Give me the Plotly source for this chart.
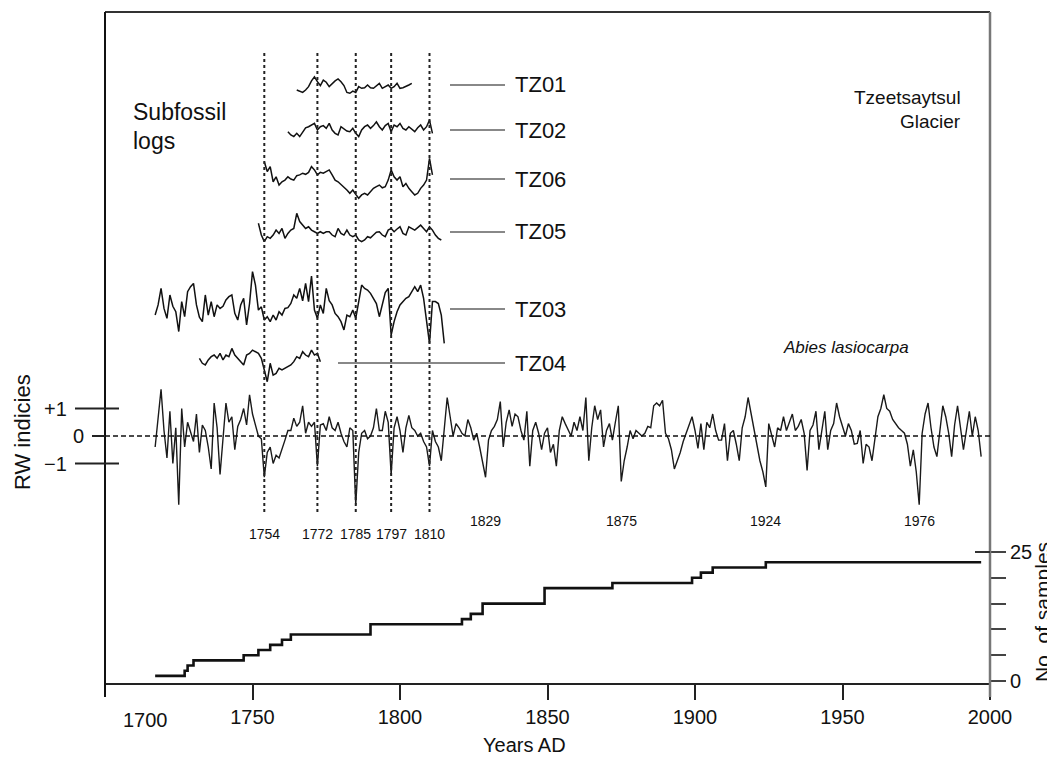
import plotly.graph_objects as go

# ---------------- DATA ----------------
chron_start = 1717
chron_values = [
    -0.4, 0.6, 1.7, 0.2, -0.8, 0.9, -1.0, 0.3, -2.5, 1.0,          # 1717-1726
    -0.4, 0.5, 0.1, -0.2, 0.8, -0.6, 0.4, 0.2, -0.4, -1.2,          # 1727-1736
    1.2, 0.3, -1.4, 0.0, 1.2, 0.5, 0.7, -0.5, 0.35, 0.6,            # 1737-1746
    1.0, 0.4, 1.5, 0.8, 0.35, 0.0, -0.1, -1.5, -0.6, -0.4,          # 1747-1756
    -1.0, -0.7, -0.8, -0.5, -0.15, 0.2, 0.2, 0.65, 0.35, 0.5,       # 1757-1766
    1.1, 0.1, 0.5, 0.35, 0.5, -1.1, 0.4, 0.45, 0.2, 0.7,            # 1767-1776
    0.3, 0.2, 0.5, 0.1, -0.2, -0.4, 0.3, 0.2, -2.5, -0.6,           # 1777-1786
    0.1, 0.2, -0.1, 0.0, 0.3, 1.0, 0.2, 0.2, 0.9, 0.5,              # 1787-1796
    -1.4, 0.3, 0.7, 0.2, -0.6, 0.3, 0.75, 0.3, 0.2, 0.0,            # 1797-1806
    0.1, -0.2, -0.4, -1.1, 0.2, -0.2, -0.4, -0.9, 0.3, 1.4,         # 1807-1816
    0.7, 0.0, 0.45, 0.3, 0.1, 0.0, 0.6, 0.3, -0.15, 0.1,            # 1817-1826
    -0.4, -0.9, -1.5, -0.15, 0.2, 0.35, 0.6, 1.25, -0.4, 0.5,       # 1827-1836
    0.95, 0.35, 0.8, 0.7, 0.2, -0.15, 0.9, -1.1, 0.2, 0.5,          # 1837-1846
    0.1, -0.5, 0.1, 0.3, -0.6, -0.3, -1.1, 0.2, 0.7, 0.45,          # 1847-1856
    0.2, 0.0, 0.5, 0.2, 0.7, 0.2, 1.4, -0.9, 0.3, 1.1,              # 1857-1866
    0.6, 0.95, -0.4, 0.2, 0.45, -0.15, 0.5, 1.1, -1.65, -0.9,       # 1867-1876
    -0.4, 0.2, -0.1, 0.2, 0.1, 0.0, 0.1, 0.35, 0.3, 1.1,            # 1877-1886
    1.2, 1.1, 1.3, 0.1, -0.1, -0.5, -1.2, -0.9, -0.6, -0.2,         # 1887-1896
    0.1, 0.4, 0.7, 0.2, -0.45, 0.45, -0.5, 0.5, 0.3, 0.8,           # 1897-1906
    0.2, -0.15, -0.15, 0.45, -0.9, 0.1, 0.2, -0.3, -0.9, 0.3,       # 1907-1916
    0.7, 1.4, 0.8, 0.2, -0.4, -0.9, -1.3, -1.85, 0.45, 0.0,         # 1917-1926
    -0.4, 0.3, 0.2, 0.7, 0.2, 0.5, 0.8, 0.2, 0.35, 0.6,             # 1927-1936
    0.1, -1.25, 0.2, 0.4, 0.9, -0.5, 0.3, 0.9, -0.5, 0.2,           # 1937-1946
    0.45, 1.2, 0.7, 0.3, 0.0, 0.45, 0.2, -0.3, -0.27, 0.2,          # 1947-1956
    -1.0, -0.3, -0.4, -0.9, 0.0, 0.7, 1.0, 1.5, 1.0, 0.9,           # 1957-1966
    0.6, 0.45, 0.3, 0.2, 0.1, -0.3, -1.1, -0.5, -1.3, -2.5,         # 1967-1976
    0.1, 0.8, 1.2, 0.3, -0.4, -0.75, 0.3, 1.1, 0.7, 0.1,            # 1977-1986
    -0.75, 0.4, 1.1, 0.3, -0.5, 0.2, 0.9, 0.0, 0.7, 0.2,            # 1987-1996
    -0.75,                                                          # 1997
]
chron_years = list(range(chron_start, chron_start + len(chron_values)))

tz01_start = 1765
tz01_values = [-0.18, -0.24, -0.27, -0.18, -0.06, 0.15, 0.3, 0.12, -0.02, 0.18,
               0.1, -0.06, 0.06, 0.15, 0.22, 0.12, -0.02, -0.27, -0.3, -0.22,
               -0.27, -0.06, -0.12, -0.1, 0.0, -0.1, -0.12, -0.02, 0.06, -0.12,
               -0.06, 0.0, -0.12, -0.06, 0.06, -0.12, -0.1, -0.06, 0.0, 0.06]

tz02_start = 1762
tz02_values = [-0.06, -0.18, -0.24, -0.12, -0.24, -0.06, 0.08, 0.12, 0.18, 0.24,
               0.0, 0.12, 0.16, 0.06, 0.24, 0.0, -0.12, -0.18, 0.12, 0.04,
               -0.04, -0.06, 0.06, -0.12, -0.24, 0.0, 0.12, 0.18, 0.06, 0.16,
               0.3, 0.12, 0.0, 0.16, 0.24, -0.06, 0.18, 0.12, 0.24, 0.06,
               0.0, 0.12, 0.04, -0.06, 0.08, 0.18, 0.0, 0.12, 0.36, -0.12]

tz06_start = 1754
tz06_values = [0.63, 0.27, 0.45, -0.1, 0.08, -0.22, -0.1, -0.04, 0.08, 0.0,
               -0.04, 0.12, 0.15, 0.21, 0.17, 0.24, 0.45, 0.33, 0.15, 0.24,
               0.21, 0.27, 0.33, 0.15, -0.04, -0.1, -0.19, -0.28, -0.4, -0.52,
               -0.4, -0.56, -0.7, -0.58, -0.52, -0.58, -0.46, -0.34, -0.28, -0.22,
               -0.32, -0.28, -0.04, 0.33, 0.08, -0.04, 0.08, -0.28, -0.16, -0.34,
               -0.46, -0.58, -0.52, -0.34, -0.22, -0.04, 0.75, 0.15]

tz05_start = 1752
tz05_values = [0.32, -0.11, -0.35, -0.17, -0.23, -0.11, 0.07, -0.05, 0.13, -0.23,
               -0.05, 0.07, 0.13, 0.68, 0.38, 0.25, 0.13, 0.19, 0.07, 0.01,
               -0.05, 0.01, -0.05, 0.01, 0.01, -0.11, -0.17, 0.13, -0.05, -0.11,
               0.07, -0.11, -0.17, -0.11, -0.29, -0.35, -0.29, -0.17, -0.21, -0.11,
               -0.01, 0.01, -0.11, -0.17, 0.07, 0.13, 0.01, 0.11, 0.19, -0.05,
               -0.11, 0.19, 0.13, 0.07, 0.16, 0.25, 0.13, 0.01, 0.19, 0.07,
               -0.11, -0.23, -0.29]

tz03_start = 1717
tz03_values = [-0.22, 0.15, 0.75, 0.02, -0.34, 0.51, 0.1, -0.1, -0.82, 0.27,
               -0.28, 0.63, 0.81, 0.93, 0.15, -0.3, -0.46, 0.51, -0.22, 0.27,
               -0.28, 0.15, 0.02, 0.1, 0.33, 0.45, 0.51, -0.16, -0.4, 0.15,
               0.39, -0.58, 0.2, 1.36, 0.87, -0.04, 0.08, -0.4, -0.28, -0.46,
               -0.22, -0.4, -0.1, -0.22, 0.02, 0.05, 0.2, 0.51, 0.39, 0.75,
               0.3, 0.93, 0.27, 1.2, -0.04, -0.34, 0.15, -0.16, 0.75, 0.3,
               0.15, -0.16, -0.28, -0.46, -0.76, -0.22, -0.28, -0.04, -0.34, 0.2,
               0.87, 0.75, 0.69, 0.57, 0.39, 0.2, -0.28, 0.15, 0.6, 0.75,
               -0.95, -0.46, -0.1, 0.15, 0.27, 0.39, 0.45, 0.63, 0.81, 0.63,
               0.87, 0.39, -0.4, -1.25, 0.27, 0.27, 0.2, -0.22, -1.25]

tz04_start = 1732
tz04_values = [0.17, -0.01, -0.07, 0.11, 0.23, 0.29, 0.17, 0.35, 0.11, 0.29,
               0.23, 0.53, 0.29, 0.17, 0.05, -0.07, 0.29, 0.35, 0.47, 0.41,
               0.35, 0.17, -0.3, -0.68, -0.01, -0.44, -0.38, -0.19, -0.25, -0.19,
               -0.13, -0.07, 0.05, 0.23, 0.17, 0.41, 0.29, 0.23, 0.47, 0.29,
               0.35, 0.05]

series_names = ["TZ01", "TZ02", "TZ06", "TZ05", "TZ03", "TZ04"]
series_starts = [tz01_start, tz02_start, tz06_start, tz05_start, tz03_start, tz04_start]
series_values = [tz01_values, tz02_values, tz06_values, tz05_values, tz03_values, tz04_values]

depth_years = [1717, 1727, 1728, 1730, 1747, 1752, 1756, 1760, 1763, 1790,
               1821, 1824, 1828, 1849, 1872, 1899, 1902, 1906, 1924, 1997]
depth_counts = [1, 2, 3, 4, 5, 6, 7, 8, 9, 11,
                12, 13, 15, 18, 19, 20, 21, 22, 23, 23]

event_years = [1754, 1772, 1785, 1797, 1810]
other_years = [1829, 1875, 1924, 1976]

x_ticks = [1750, 1800, 1850, 1900, 1950, 2000]
rw_ticks = [1, 0, -1]
rw_labels = ["+1", "0", "\u22121"]
depth_ticks = [0, 5, 10, 15, 20, 25]
depth_labels = ["0", "", "", "", "", "25"]

# ---------------- LAYOUT GEOMETRY ----------------
# The page body has an 8px margin, so every screen position is shifted by OFF.
OFF = 8
W, H = 1055 - OFF, 763 - OFF
# plot area in screen (window) pixels
SPL, SPR, SPT, SPB = 105, 990, 12, 683
PL, PR, PT, PB = SPL - OFF, SPR - OFF, SPT - OFF, SPB - OFF
PW, PH = PR - PL, PB - PT
PX_UNIT = 27.5            # pixels per RW index unit
FONT = "Liberation Sans, Arial, sans-serif"

def fy(px):               # screen pixel y -> paper y
    return (SPB - px) / PH

def fx(px):               # screen pixel x -> paper x
    return (px - SPL) / PW

def ydomain(base_px, r):
    return [fy(base_px + r * PX_UNIT), fy(base_px - r * PX_UNIT)]

chron_base, chron_r = 436, 3.0
series_base = [85, 130, 179, 232, 309, 363]
series_r = 1.6

fig = go.Figure()

# sample depth (axis y)
fig.add_trace(go.Scatter(x=depth_years, y=depth_counts, mode="lines",
                         line=dict(color="#111", width=2.6, shape="hv"),
                         xaxis="x", yaxis="y", hoverinfo="skip"))

# chronology (axis y2)
fig.add_trace(go.Scatter(x=chron_years, y=chron_values, mode="lines",
                         line=dict(color="#1a1a1a", width=1.4),
                         xaxis="x", yaxis="y2", hoverinfo="skip"))

# subfossil logs (axes y3..y8)
for i, (nm, st, vals) in enumerate(zip(series_names, series_starts, series_values)):
    yrs = list(range(st, st + len(vals)))
    fig.add_trace(go.Scatter(x=yrs, y=vals, mode="lines", name=nm,
                             line=dict(color="#111", width=1.5),
                             xaxis="x", yaxis=f"y{i+3}", hoverinfo="skip"))

# depth axis mapping: 0 at screen px 681, 25 at 552
d_px_unit = (681 - 552) / 25
d_top_px = 540
d_lo = -(SPB - 681) / d_px_unit
d_hi = d_lo + (SPB - d_top_px) / d_px_unit

layout = dict(
    width=W, height=H,
    margin=dict(l=PL, r=W - PR, t=PT, b=H - PB, pad=0),
    paper_bgcolor="white", plot_bgcolor="rgba(0,0,0,0)",
    showlegend=False,
    font=dict(family=FONT, color="#111", size=20),
    xaxis=dict(range=[1700, 2000], domain=[0, 1], anchor="y",
               showline=True, linecolor="#222", linewidth=2,
               ticks="outside", ticklen=15, tickwidth=2, tickcolor="#222",
               tickvals=x_ticks, ticktext=[str(v) for v in x_ticks],
               tickfont=dict(size=20, family=FONT, color="#111"),
               showgrid=False, zeroline=False),
    yaxis=dict(range=[d_lo, d_hi], domain=[0, fy(d_top_px)], anchor="x",
               side="right", showline=False, showgrid=False, zeroline=False,
               ticks="outside", ticklen=15, tickwidth=2, tickcolor="#444",
               tickvals=depth_ticks, ticktext=depth_labels,
               tickfont=dict(size=20, family=FONT, color="#111")),
    yaxis2=dict(range=[-chron_r, chron_r], domain=ydomain(chron_base, chron_r),
                anchor="x", visible=False),
)
for i, b in enumerate(series_base):
    layout[f"yaxis{i+3}"] = dict(range=[-series_r, series_r],
                                 domain=ydomain(b, series_r),
                                 anchor="x", visible=False)

shapes = []
# frame
ext = fy(SPB + 14)
shapes.append(dict(type="line", xref="paper", yref="paper", x0=0, x1=1, y0=1, y1=1,
                   line=dict(color="#333", width=2)))
shapes.append(dict(type="line", xref="paper", yref="paper", x0=0, x1=0, y0=ext, y1=1,
                   line=dict(color="#111", width=2)))
shapes.append(dict(type="line", xref="paper", yref="paper", x0=1, x1=1, y0=ext, y1=1,
                   line=dict(color="#777", width=2.5)))
# inner part of the 25 tick
shapes.append(dict(type="line", xref="paper", yref="y", x0=fx(975), x1=1, y0=25, y1=25,
                   line=dict(color="#333", width=2)))
# RW ticks
for v in rw_ticks:
    x0 = fx(92) if v == 0 else fx(75)
    x1 = fx(105) if v == 0 else fx(119)
    shapes.append(dict(type="line", xref="paper", yref="y2", x0=x0, x1=x1, y0=v, y1=v,
                       line=dict(color="#222", width=2)))
# zero line (dashed)
shapes.append(dict(type="line", xref="paper", yref="y2", x0=0, x1=1, y0=0, y1=0,
                   line=dict(color="#111", width=1.6, dash="5px,3px")))
# event dashed verticals
for yv in event_years:
    shapes.append(dict(type="line", xref="x", yref="paper", x0=yv, x1=yv,
                       y0=fy(512), y1=fy(52),
                       line=dict(color="#222", width=2, dash="3px,3px")))
# connector lines to series labels
for i, nm in enumerate(series_names):
    x0 = fx(338) if nm == "TZ04" else fx(450)
    shapes.append(dict(type="line", xref="paper", yref=f"y{i+3}", x0=x0, x1=fx(505),
                       y0=0, y1=0, line=dict(color="#888", width=1.8)))
layout["shapes"] = shapes

ann = []
def text(x, y, s, size=20, xanchor="center", yanchor="middle", xref="paper", yref="paper",
         angle=0, italic=False, xshift=0):
    ann.append(dict(x=x, y=y, xref=xref, yref=yref, text=s, showarrow=False,
                    xanchor=xanchor, yanchor=yanchor, textangle=angle, xshift=xshift,
                    font=dict(size=size, family=FONT, color="#111",
                              style="italic" if italic else "normal")))

for i, nm in enumerate(series_names):
    text(fx(513), 0, nm, size=22, xanchor="left", yref=f"y{i+3}")
for yv in event_years:
    text(yv, fy(534), str(yv), size=14, xref="x")
for yv in other_years:
    text(yv, fy(521), str(yv), size=14, xref="x")
for v, lab in zip(rw_ticks, rw_labels):
    if v == 0:
        text(fx(86), v, lab, size=20, xanchor="right", yref="y2")
    else:
        text(fx(69), v, lab, size=20, xanchor="right", yref="y2")

text(1700, fy(720), "1700", size=20, xref="x", xshift=40)
text(fx(131), fy(112), "Subfossil", size=23, xanchor="left")
text(fx(131), fy(141), "logs", size=23, xanchor="left")
text(fx(963), fy(97), "Tzeetsaytsul", size=19, xanchor="right")
text(fx(963), fy(122), "Glacier", size=19, xanchor="right")
text(fx(846), fy(348), "Abies lasiocarpa", size=17, italic=True)
text(fx(524), fy(745), "Years AD", size=20)
text(fx(22), fy(432), "RW indicies", size=22, angle=-90)
text(fx(1042), fy(612), "No. of samples", size=21, angle=-90)
layout["annotations"] = ann

fig.update_layout(**layout)
fig.write_html("out.html")
